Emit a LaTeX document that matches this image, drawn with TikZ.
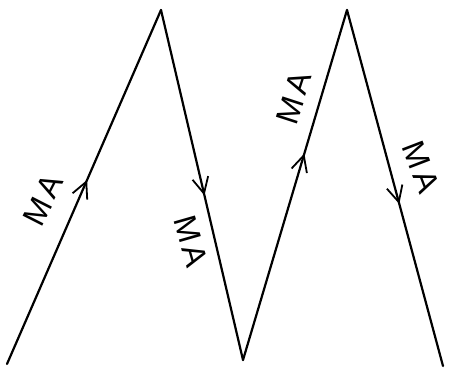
\documentclass[tikz,border=0pt]{standalone}
\usepackage{fontspec}
\setmainfont{Liberation Sans}
\usetikzlibrary{decorations.markings,arrows.meta}
\tikzset{
  zig/.style={line width=2.2pt,black,line cap=round,
    postaction={decorate,decoration={markings,
      mark=at position #1 with {\arrow{Straight Barb[length=16pt,width=16pt,line width=1.8pt]}}}}},
  lbl/.style={font=\fontsize{32}{32}\selectfont,inner sep=0pt}
}
\begin{document}
\begin{tikzpicture}[x=1pt,y=-1pt]
\useasboundingbox (0,0) rectangle (449,369);
\coordinate (a) at (7,364);
\coordinate (b) at (161,10);
\coordinate (c) at (243,360);
\coordinate (d) at (347,10);
\coordinate (e) at (443,366);
\draw[zig=0.52] (a) -- (b);
\draw[zig=0.53] (b) -- (c);
\draw[zig=0.59] (c) -- (d);
\draw[zig=0.545] (d) -- (e);
\node[lbl,rotate=63] (l1) at (43,200) {M\kern4pt A};
\node[lbl,rotate=-74] (l2) at (191,241) {M\kern4pt A};
\node[lbl,rotate=72] (l3) at (294,98) {M\kern4pt A};
\node[lbl,rotate=-69] (l4) at (421,167) {M\kern4pt A};
\end{tikzpicture}
\end{document}
